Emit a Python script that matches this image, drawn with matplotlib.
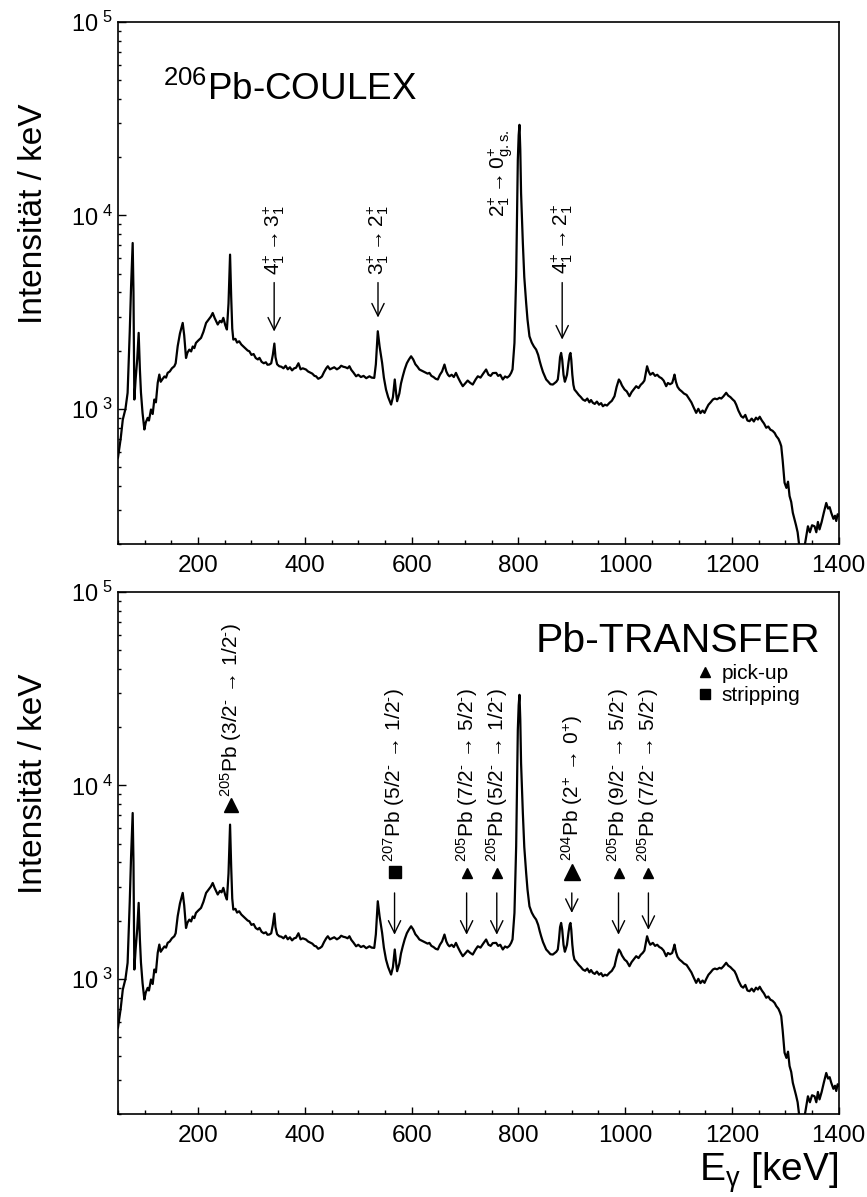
import matplotlib
matplotlib.use('Agg')
import matplotlib.pyplot as plt
from matplotlib.lines import Line2D
from matplotlib.ticker import MultipleLocator, LogLocator, NullFormatter

plt.rcParams['font.family'] = ['Liberation Sans', 'DejaVu Sans']
plt.rcParams['mathtext.fontset'] = 'custom'
plt.rcParams['mathtext.rm'] = 'Liberation Sans'
plt.rcParams['mathtext.it'] = 'Liberation Sans:italic'
plt.rcParams['mathtext.bf'] = 'Liberation Sans:bold'
plt.rcParams['mathtext.sf'] = 'Liberation Sans'

# ---------------- spectrum ----------------
energy = [50, 55, 59, 64, 68, 72, 74.5, 77.5, 79, 80.6, 83, 86, 88.7, 91, 93, 96, 99.4, 102, 105.6, 108,
          111.8, 115, 118, 121, 124.4, 127.4, 130, 133, 137, 140, 143, 147, 151, 155.5, 158, 161.8, 166,
          171.2, 174, 177.4, 180, 183.6, 187, 190, 193, 196, 200, 205.5, 210, 215, 220, 224, 227.4, 231,
          236.8, 241, 244, 247.3, 251, 254, 257, 259.9, 262, 264, 266, 270, 273, 277, 281, 285, 289, 293,
          296, 300, 304, 308, 312, 315, 319, 323, 327, 330, 333.5, 337, 340, 342.9, 345, 348, 352, 356,
          360, 364, 368, 372, 376, 380, 383.5, 388, 392, 396, 402, 406, 410, 414, 418, 421, 425, 428.6,
          432, 436, 440, 443, 447, 451, 455, 460, 464.7, 468, 472, 476, 480, 483.5, 487, 491, 496, 500,
          505, 510, 515, 521, 525, 530, 533, 536.6, 540, 544.7, 548, 552, 556, 561.5, 565, 568.4, 571,
          572.8, 577, 580, 583.4, 587, 591, 595, 599, 603, 607, 611, 614.6, 618, 622, 626, 630, 633.3,
          637, 641, 645, 649, 653, 657, 661.5, 665, 668, 670.8, 675, 679, 683, 687, 691, 695.8, 700, 705,
          710, 714.5, 720, 724, 729, 734, 739.5, 744, 748, 752, 758.3, 762, 766, 770.8, 775, 779, 783,
          786.4, 789, 792.6, 795.8, 797.5, 798.9, 800.5, 802, 803.5, 805, 808.3, 811, 814.5, 817, 820.7,
          825, 829, 833.2, 837, 840, 842.6, 846, 849, 852, 856, 860, 864.5, 868, 871, 873.8, 876, 878,
          880, 882, 884.5, 887, 888.5, 891, 894, 896, 897.5, 899, 901, 903, 905, 909, 913, 917, 920.7,
          925, 929, 933, 936, 939.5, 943, 947, 951, 955, 958.2, 962, 966, 970.6, 975, 980, 984, 988.2,
          991, 994, 998.8, 1003, 1008, 1012, 1016, 1020.6, 1025, 1029, 1033, 1036, 1038, 1041, 1044,
          1047, 1051.8, 1056, 1060, 1064, 1068, 1072, 1076.8, 1080, 1084, 1088, 1090, 1092.4, 1095,
          1098, 1101.7, 1106, 1110, 1115, 1120.5, 1124, 1128, 1133, 1137, 1141, 1145, 1148.6, 1152,
          1156, 1160, 1164.3, 1168, 1172, 1176.7, 1180, 1184, 1189.2, 1193, 1197, 1201, 1204.8, 1208,
          1212, 1217.3, 1221, 1225, 1229, 1232.9, 1237, 1241, 1245, 1248.6, 1252, 1256, 1260, 1264.2,
          1268, 1272, 1276, 1280, 1283, 1287, 1290, 1292.3, 1295, 1298.5, 1302, 1305, 1307.9, 1311,
          1314, 1317.2, 1320, 1323, 1326.6, 1330, 1334, 1338, 1342.3, 1346, 1350, 1354.7, 1358, 1361,
          1364, 1368, 1372, 1376.6, 1380, 1383, 1386, 1390, 1393, 1395.3, 1398, 1400]
counts = [560, 700, 880, 1000, 1210, 2500, 4300, 7200, 4000, 1117, 1420, 1800, 2470, 1600, 1213, 950, 782,
          850, 898, 870, 992, 940, 1117, 1080, 1363, 1503, 1380, 1420, 1470, 1450, 1534, 1560, 1620, 1660,
          1720, 2107, 2450, 2780, 2400, 1832, 1950, 2024, 1980, 2100, 2060, 2191, 2250, 2326, 2500, 2780,
          2900, 3000, 3130, 2950, 2728, 2850, 2800, 2953, 2700, 2570, 3500, 6270, 3800, 2600, 2280, 2300,
          2200, 2235, 2150, 2100, 2050, 2000, 1985, 1900, 1920, 1830, 1800, 1834, 1750, 1720, 1740, 1690,
          1694, 1720, 1900, 2175, 1850, 1700, 1660, 1650, 1620, 1670, 1600, 1640, 1580, 1620, 1630, 1720,
          1600, 1620, 1597, 1560, 1540, 1520, 1480, 1473, 1430, 1445, 1470, 1550, 1620, 1660, 1600, 1620,
          1640, 1600, 1630, 1670, 1650, 1640, 1620, 1660, 1590, 1540, 1473, 1500, 1460, 1480, 1440, 1473,
          1450, 1445, 1700, 2518, 2100, 1729, 1450, 1258, 1150, 1052, 1150, 1418, 1200, 1095, 1200, 1350,
          1473, 1600, 1720, 1800, 1869, 1800, 1700, 1650, 1597, 1580, 1560, 1540, 1520, 1534, 1480, 1460,
          1430, 1418, 1500, 1560, 1694, 1560, 1500, 1473, 1500, 1460, 1534, 1450, 1380, 1309, 1350, 1400,
          1360, 1335, 1420, 1473, 1450, 1520, 1597, 1500, 1480, 1530, 1534, 1480, 1500, 1418, 1470, 1450,
          1480, 1534, 1600, 2191, 4850, 10000, 19400, 26000, 29400, 22000, 13000, 7210, 4800, 3530, 2900,
          2371, 2200, 2100, 2024, 1900, 1760, 1660, 1550, 1480, 1418, 1380, 1340, 1335, 1360, 1380, 1418,
          1600, 1850, 1945, 1800, 1500, 1380, 1420, 1500, 1750, 1900, 1945, 1800, 1500, 1330, 1258, 1220,
          1180, 1150, 1117, 1100, 1130, 1080, 1110, 1074, 1060, 1090, 1050, 1070, 1031, 1050, 1040, 1074,
          1100, 1162, 1300, 1418, 1380, 1320, 1258, 1230, 1162, 1220, 1260, 1309, 1280, 1330, 1363, 1400,
          1500, 1660, 1560, 1500, 1534, 1480, 1500, 1460, 1440, 1400, 1309, 1360, 1340, 1360, 1420, 1503,
          1380, 1300, 1258, 1230, 1200, 1180, 1117, 1080, 1020, 953, 1000, 950, 980, 953, 1000, 1050, 1080,
          1117, 1130, 1120, 1140, 1130, 1160, 1210, 1170, 1150, 1120, 1095, 1050, 980, 916, 900, 930, 870,
          863, 890, 860, 900, 880, 910, 870, 840, 798, 810, 780, 770, 750, 723, 700, 670, 641, 540, 415,
          390, 420, 354, 330, 290, 268, 250, 230, 190, 170, 180, 210, 247, 230, 250, 247, 230, 260, 238,
          260, 290, 326, 305, 310, 290, 270, 280, 263, 285, 280]

x_ticks = [200, 400, 600, 800, 1000, 1200, 1400]
y_ticks = [1e3, 1e4, 1e5]
y_tick_labels = [r'$10^{\ 3}$', r'$10^{\ 4}$', r'$10^{\ 5}$']

# ---------------- annotations ----------------
top_labels = [r'$4^{+}_{1}\rightarrow 3^{+}_{1}$', r'$3^{+}_{1}\rightarrow 2^{+}_{1}$',
              r'$2^{+}_{1}\rightarrow 0^{+}_{\mathrm{g.s.}}$', r'$4^{+}_{1}\rightarrow 2^{+}_{1}$']
top_energy = [342.5, 537.0, 766.0, 882.0]
top_text_y = [4940, 4940, 9840, 4990]
top_arrow_from = [4495, 4495, None, 4495]
top_arrow_to = [2508, 2964, None, 2280]

bot_labels = [r'$^{205}$Pb (3/2$^{\text{-}}\,\rightarrow\,$1/2$^{\text{-}}$)',
              r'$^{207}$Pb (5/2$^{\text{-}}\,\rightarrow\,$1/2$^{\text{-}}$)',
              r'$^{205}$Pb (7/2$^{\text{-}}\,\rightarrow\,$5/2$^{\text{-}}$)',
              r'$^{205}$Pb (5/2$^{\text{-}}\,\rightarrow\,$1/2$^{\text{-}}$)',
              r'$^{204}$Pb (2$^{+}\,\rightarrow\,$0$^{+}$)',
              r'$^{205}$Pb (9/2$^{\text{-}}\,\rightarrow\,$5/2$^{\text{-}}$)',
              r'$^{205}$Pb (7/2$^{\text{-}}\,\rightarrow\,$5/2$^{\text{-}}$)']
bot_energy = [261.0, 568.0, 703.0, 759.5, 900.0, 987.5, 1043.5]
bot_marker = ['^', 's', '^', '^', '^', '^', '^']
bot_msize = [9.5, 9.0, 7.5, 7.5, 11.0, 7.5, 7.5]
bot_marker_y = [7900, 3585, 3530, 3530, 3550, 3530, 3530]
bot_text_y = [8710, 4000, 4000, 4000, 4050, 4000, 4000]
bot_arrow_from = [None, 2780, 2780, 2780, 2780, 2780, 2780]
bot_arrow_to = [None, 1690, 1690, 1690, 2190, 1690, 1790]

arrow_style = '->,head_length=0.45,head_width=0.22'

fig = plt.figure(figsize=(8.67, 11.97), dpi=100)
ax1 = fig.add_axes([0.1361, 0.54553, 0.8313, 0.43609])
ax2 = fig.add_axes([0.1361, 0.06934, 0.8313, 0.43609])

for ax in (ax1, ax2):
    ax.plot(energy, counts, color='k', lw=1.6)
    ax.set_yscale('log')
    ax.set_xlim(50, 1400)
    ax.set_ylim(200, 1e5)
    ax.set_yticks(y_ticks, labels=y_tick_labels)
    ax.yaxis.set_minor_locator(LogLocator(base=10, subs=[2, 3, 4, 5, 6, 7, 8, 9]))
    ax.yaxis.set_minor_formatter(NullFormatter())
    ax.set_xticks(x_ticks)
    ax.xaxis.set_minor_locator(MultipleLocator(50))
    ax.tick_params(which='both', direction='in', top=False, right=False, width=1.0)
    ax.tick_params(axis='x', which='major', length=5, labelsize=17.5, pad=8)
    ax.tick_params(axis='x', which='minor', length=3)
    ax.tick_params(axis='y', which='major', length=5.5, labelsize=17, pad=4)
    ax.tick_params(axis='y', which='minor', length=2.5)
    for sp in ax.spines.values():
        sp.set_linewidth(1.2)
    ax.set_ylabel('Intensität / keV', fontsize=24)
    ax.yaxis.set_label_coords(-0.096, 0.632)

# top panel
ax1.text(0.062, 0.8506, r'$^{206}$Pb-COULEX', fontsize=26.5, ha='left', va='baseline',
         transform=ax1.transAxes)
for lab, e, ty, a0, a1 in zip(top_labels, top_energy, top_text_y, top_arrow_from, top_arrow_to):
    ax1.text(e, ty, lab, rotation=90, ha='center', va='bottom', fontsize=15)
    if a0 is not None:
        ax1.annotate('', xy=(e, a1), xytext=(e, a0),
                     arrowprops=dict(arrowstyle=arrow_style, color='k', lw=1.0,
                                     shrinkA=0, shrinkB=0, mutation_scale=20))

# bottom panel
ax2.text(0.974, 0.8856, 'Pb-TRANSFER', fontsize=29.5, ha='right', va='baseline',
         transform=ax2.transAxes)
for lab, e, mk, ms, my, ty, a0, a1 in zip(bot_labels, bot_energy, bot_marker, bot_msize,
                                          bot_marker_y, bot_text_y, bot_arrow_from, bot_arrow_to):
    ax2.plot([e], [my], marker=mk, color='k', markersize=ms, ls='none')
    ax2.text(e, ty, lab, rotation=90, ha='center', va='bottom', fontsize=15)
    if a0 is not None:
        ax2.annotate('', xy=(e, a1), xytext=(e, a0),
                     arrowprops=dict(arrowstyle=arrow_style, color='k', lw=1.0,
                                     shrinkA=0, shrinkB=0, mutation_scale=20))

handles = [Line2D([], [], marker='^', color='k', ls='none', markersize=7.5),
           Line2D([], [], marker='s', color='k', ls='none', markersize=7.0)]
ax2.legend(handles, ['pick-up', 'stripping'], loc='upper left', bbox_to_anchor=(0.803, 0.862),
           frameon=False, fontsize=15, handlelength=0.8, handletextpad=0.4,
           borderaxespad=0, borderpad=0, labelspacing=0.15)

ax2.set_xlabel(r'E$_{\mathrm{\gamma}}$ [keV]', fontsize=28)
ax2.xaxis.set_label_coords(1.0, -0.069)
ax2.xaxis.label.set_ha('right')

fig.savefig('out.png', dpi=100)
